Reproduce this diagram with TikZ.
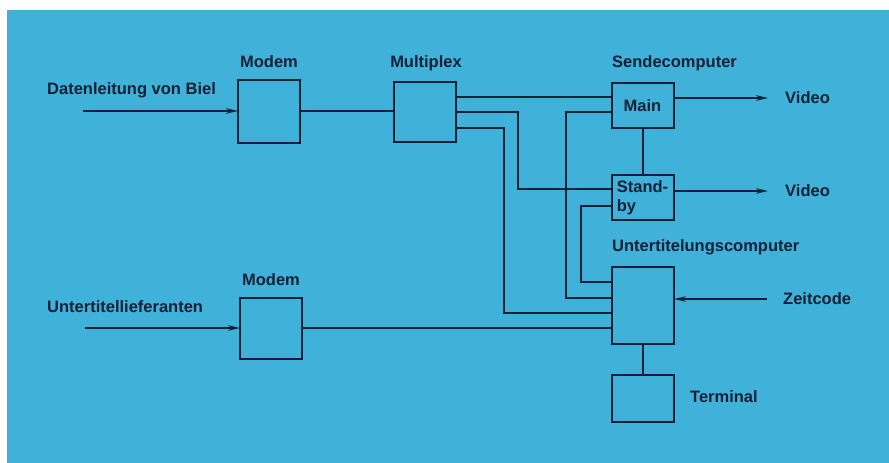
\documentclass[tikz,border=0pt]{standalone}
\usepackage{fontspec}
\setmainfont{Liberation Sans}
\usetikzlibrary{arrows.meta}

\definecolor{panel}{RGB}{64,177,216}
\definecolor{ink}{RGB}{20,32,54}

\tikzstyle{block} =[shape=rectangle,draw=ink,line width=2pt,
minimum width=62pt,inner sep=0pt,outer sep=0pt]
\tikzstyle{title} =[text=ink,inner sep=0pt,
font=\bfseries\fontsize{16.5}{19}\selectfont]
\tikzstyle{wire} =[draw=ink,line width=2pt]
\tikzstyle{feed} =[wire,-{Stealth[length=12pt,width=5.5pt]}]

\begin{document}
\begin{tikzpicture}[x=1pt,y=-1pt]
\useasboundingbox (0,0) rectangle (889,463);
\fill[panel] (7,10) rectangle (889,463);

% boxes
\node[block,minimum height=63pt] (modemA) at (269,111) {};
\node[block,minimum height=60pt] (multiplex) at (425,112) {};
\node[block,title,minimum height=45pt] (main) at (642.5,105.5) {Main};
\node[block,title,minimum height=45pt,align=left] (standby) at (642.5,197.5) {Stand-\\by};
\node[block,minimum height=77pt] (utc) at (643,305.5) {};
\node[block,minimum height=47pt] (terminal) at (643,398.5) {};
\node[block,minimum height=61pt] (modemB) at (271,328) {};

% titles
\node[title,anchor=base west] (biel) at (47,94) {Datenleitung von Biel};
\node[title,anchor=base] (modemAtitle) at (269,67) {Modem};
\node[title,anchor=base] (multiplextitle) at (426,67) {Multiplex};
\node[title,anchor=base west] (maintitle) at (612,67) {Sendecomputer};
\node[title,anchor=base west] (videoA) at (785,103.5) {Video};
\node[title,anchor=base west] (videoB) at (785,196) {Video};
\node[title,anchor=base west] (utctitle) at (612,251) {Untertitelungscomputer};
\node[title,anchor=base] (modemBtitle) at (271,285.5) {Modem};
\node[title,anchor=base west] (lieferanten) at (47,312.5) {Untertitellieferanten};
\node[title,anchor=base west] (zeitcode) at (783,304.5) {Zeitcode};
\node[title,anchor=base west] (terminaltitle) at (690,402) {Terminal};

% free ends
\coordinate (srcA) at (83,111);
\coordinate (srcB) at (85,328);
\coordinate (vidA) at (768,98);
\coordinate (vidB) at (768,191);
\coordinate (zeit) at (767,299);

% connectors
\draw[feed] (srcA) -- (modemA.west);
\draw[feed] (srcB) -- (modemB.west);
\draw[wire] (modemA.east) -- (multiplex.west |- modemA.east);
\draw[wire] (multiplex.east |- 0,97) -- (main.west |- 0,97);
\draw[wire] (multiplex.east |- 0,112) -| (518,189) -- (standby.west |- 0,189);
\draw[wire] (multiplex.east |- 0,128) -| (504,313) -- (utc.west |- 0,313);
\draw[wire] (main.west |- 0,112) -| (566,298) -- (utc.west |- 0,298);
\draw[wire] (standby.west |- 0,206) -| (581,282) -- (utc.west |- 0,282);
\draw[wire] (modemB.east) -- (utc.west |- modemB.east);
\draw[wire] (main.south) -- (standby.north);
\draw[wire] (utc.south) -- (terminal.north);
\draw[feed] (main.east |- vidA) -- (vidA);
\draw[feed] (standby.east |- vidB) -- (vidB);
\draw[feed] (zeit) -- (utc.east |- zeit);
\end{tikzpicture}
\end{document}
